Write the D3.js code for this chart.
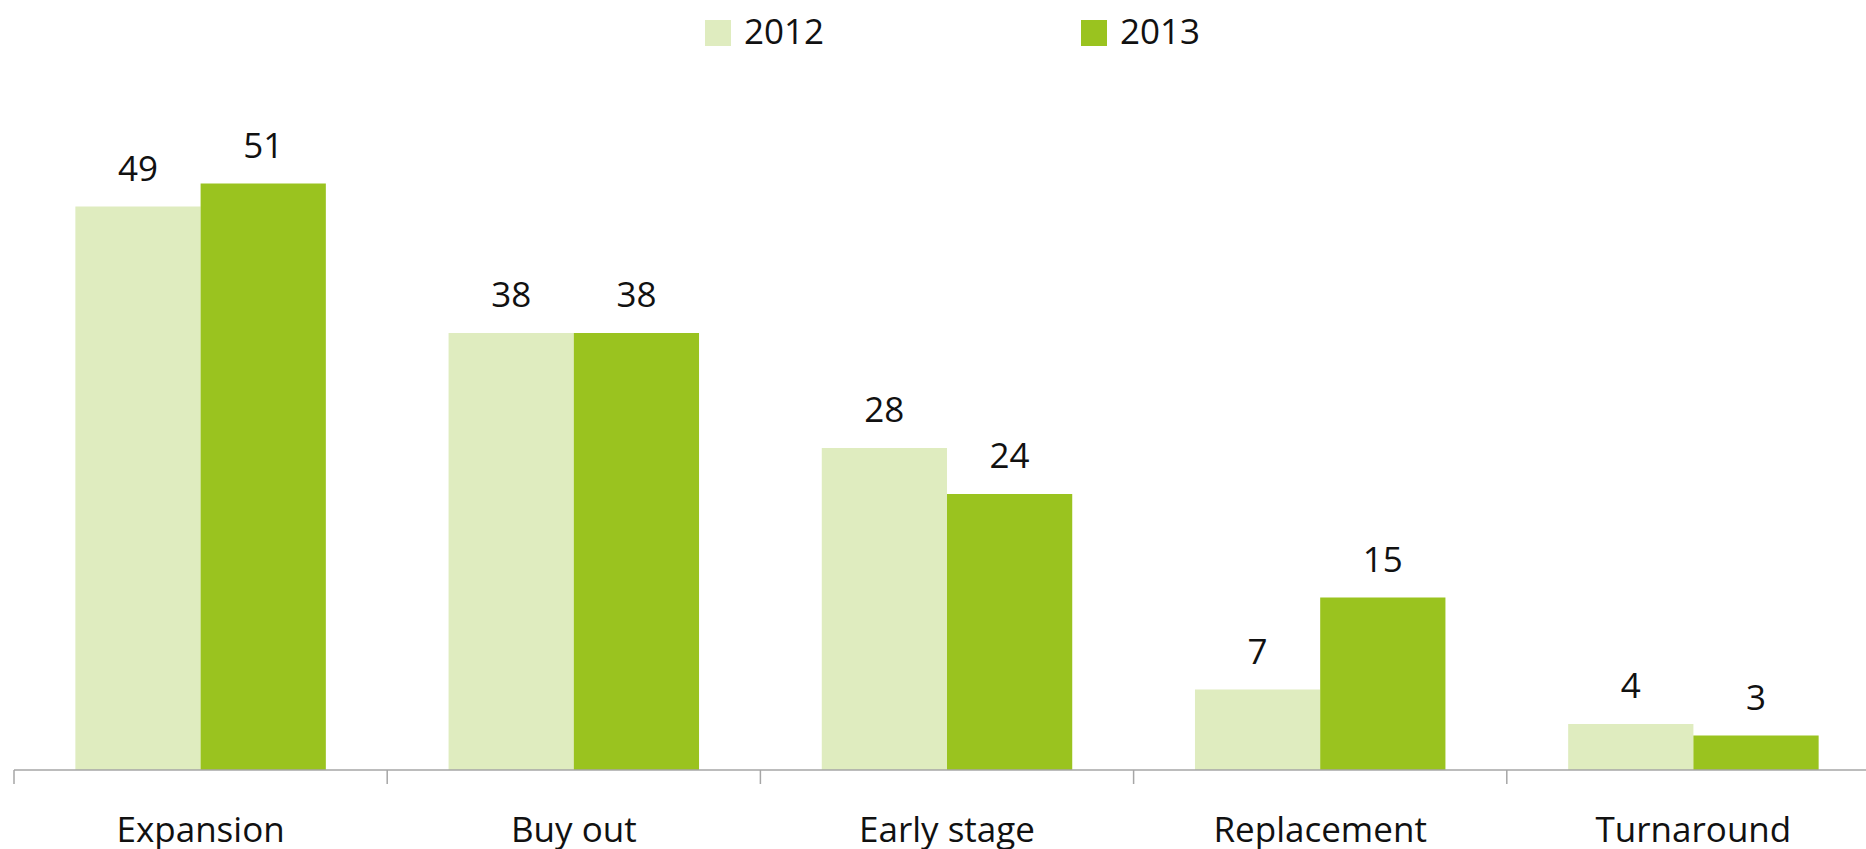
<!DOCTYPE html>
<html>
<head>
<meta charset="utf-8">
<script src="https://cdn.jsdelivr.net/npm/d3@7"></script>
<style>
  body { margin: 0; background: #fff; }
  text { font-family: "Open Sans", sans-serif; fill: #111; }
</style>
</head>
<body>
<div id="chart-container"></div>
<script>
const categories = ["Expansion", "Buy out", "Early stage", "Replacement", "Turnaround"];
const seriesNames = ["2012", "2013"];
const values2012 = [49, 38, 28, 7, 4];
const values2013 = [51, 38, 24, 15, 3];
const colors = ["#dfecbf", "#9ac31f"];

const width = 1866, height = 849;
const baseline = 770;

const svg = d3.select("#chart-container")
    .append("svg")
    .attr("width", width)
    .attr("height", height);

// Category bands (axis runs past the right edge)
const x = d3.scaleBand()
    .domain(categories)
    .range([14, 1880]);

const x1 = d3.scaleBand()
    .domain(seriesNames)
    .range([0, x.bandwidth()])
    .paddingOuter(0.49)
    .paddingInner(0);

const y = d3.scaleLinear()
    .domain([0, 60])
    .range([baseline, baseline - 690]);

const data = categories.map((c, i) => ({
    cat: c,
    vals: [
        { key: "2012", v: values2012[i] },
        { key: "2013", v: values2013[i] }
    ]
}));

const groups = svg.selectAll(".grp")
    .data(data)
    .join("g")
    .attr("class", "grp")
    .attr("transform", d => `translate(${x(d.cat)},0)`);

groups.selectAll("rect")
    .data(d => d.vals)
    .join("rect")
    .attr("x", d => x1(d.key))
    .attr("y", d => y(d.v))
    .attr("width", x1.bandwidth())
    .attr("height", d => baseline - y(d.v))
    .attr("fill", (d, i) => colors[i]);

groups.selectAll(".val")
    .data(d => d.vals)
    .join("text")
    .attr("class", "val")
    .attr("x", d => x1(d.key) + x1.bandwidth() / 2)
    .attr("y", d => y(d.v) - 26)
    .attr("text-anchor", "middle")
    .style("font-size", "35px")
    .text(d => d.v);

// x axis
const axis = svg.append("g")
    .attr("transform", `translate(0,${baseline})`);

axis.append("line")
    .attr("x1", 14).attr("x2", width)
    .attr("stroke", "#a6a6a6")
    .attr("stroke-width", 1.5);

axis.selectAll(".tick")
    .data(categories.concat(["end"]))
    .join("line")
    .attr("x1", (d, i) => i < categories.length ? x(d) : x(categories[i - 1]) + x.bandwidth())
    .attr("x2", (d, i) => i < categories.length ? x(d) : x(categories[i - 1]) + x.bandwidth())
    .attr("y1", 0).attr("y2", 14)
    .attr("stroke", "#a6a6a6")
    .attr("stroke-width", 1.5);

axis.selectAll(".cat")
    .data(categories)
    .join("text")
    .attr("class", "cat")
    .attr("x", d => x(d) + x.bandwidth() / 2)
    .attr("y", 72)
    .attr("text-anchor", "middle")
    .style("font-size", "35px")
    .text(d => d);

// legend
const legendX = [705, 1081];
const legend = svg.selectAll(".leg")
    .data(seriesNames)
    .join("g")
    .attr("class", "leg")
    .attr("transform", (d, i) => `translate(${legendX[i]},20)`);

legend.append("rect")
    .attr("width", 26).attr("height", 26)
    .attr("fill", (d, i) => colors[i]);

legend.append("text")
    .attr("x", 39)
    .attr("y", 24)
    .style("font-size", "35px")
    .text(d => d);
</script>
</body>
</html>
